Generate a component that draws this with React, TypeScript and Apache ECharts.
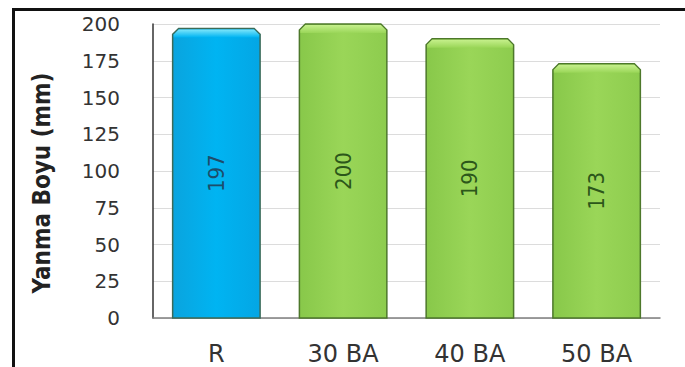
import React, { useEffect, useRef } from "react";
import * as echarts from "echarts";

const categories = ["R", "30 BA", "40 BA", "50 BA"];
const values = [197, 200, 190, 173];
const yTicks = [0, 25, 50, 75, 100, 125, 150, 175, 200];
const yTitle = "Yanma Boyu (mm)";

const palette = [
  { body: ["#0aa4de", "#00b4f2", "#04a6e4"], bevel: "#7fe6fa", edge: "#3b6b58", text: "#1d4d6b" },
  { body: ["#88c84a", "#9ad658", "#8dcc4e"], bevel: "#c6f08c", edge: "#4d782b", text: "#2c571a" },
];

export default function App() {
  const ref = useRef<HTMLDivElement>(null);
  useEffect(() => {
    if (!ref.current) return;
    const chart = echarts.init(ref.current, null, { renderer: "svg" });
    const condensed = "DejaVu Sans Condensed, Liberation Sans Narrow, sans-serif";
    chart.setOption({
      animation: false,
      backgroundColor: "#ffffff",
      grid: { left: 153, right: 25, top: 24, bottom: 49 },
      graphic: [
        { type: "line", shape: { x1: 12, y1: 9.5, x2: 685, y2: 9.5 }, style: { stroke: "#111", lineWidth: 3 } },
        { type: "line", shape: { x1: 13.5, y1: 8, x2: 13.5, y2: 367 }, style: { stroke: "#111", lineWidth: 3 } },
        {
          type: "text",
          x: 42,
          y: 183,
          rotation: Math.PI / 2,
          style: {
            text: yTitle,
            fontSize: 24,
            fontWeight: "bold",
            fontFamily: condensed,
            fill: "#222",
            align: "center",
            verticalAlign: "middle",
          },
        },
      ],
      xAxis: {
        type: "category",
        data: categories,
        axisTick: { show: false },
        axisLine: { lineStyle: { color: "#7f7f7f", width: 1.5 } },
        axisLabel: { color: "#333", fontSize: 24, fontFamily: "DejaVu Sans", margin: 24 },
      },
      yAxis: {
        type: "value",
        min: 0,
        max: 200,
        interval: 25,
        axisLine: { show: true, lineStyle: { color: "#333", width: 1.5 } },
        axisTick: { show: false },
        axisLabel: {
          color: "#333",
          fontSize: 20,
          fontFamily: "DejaVu Sans",
          margin: 33,
          formatter: (v: number) => (yTicks.includes(v) ? String(v) : ""),
        },
        splitLine: { lineStyle: { color: "#dcdcdc", width: 1 } },
      },
      series: [
        {
          type: "custom",
          data: values.map((v, i) => [i, v]),
          encode: { x: 0, y: 1 },
          renderItem: (params: any, api: any) => {
            const idx = api.value(0);
            const val = api.value(1);
            const top = api.coord([idx, val]);
            const base = api.coord([idx, 0]);
            const w = api.size([1, 0])[0] * 0.69;
            const x0 = top[0] - w / 2;
            const x1 = top[0] + w / 2;
            const yT = top[1];
            const yB = base[1];
            const b = 6;
            const p = palette[params.dataIndex === 0 ? 0 : 1];
            return {
              type: "group",
              children: [
                {
                  type: "polygon",
                  shape: {
                    points: [
                      [x0, yB],
                      [x0, yT + b],
                      [x0 + b, yT],
                      [x1 - b, yT],
                      [x1, yT + b],
                      [x1, yB],
                    ],
                  },
                  style: {
                    fill: new echarts.graphic.LinearGradient(0, 0, 1, 0, [
                      { offset: 0, color: p.body[0] },
                      { offset: 0.5, color: p.body[1] },
                      { offset: 1, color: p.body[2] },
                    ]),
                    stroke: p.edge,
                    lineWidth: 1.5,
                  },
                },
                {
                  type: "polygon",
                  shape: {
                    points: [
                      [x0 + 1, yT + b + 3],
                      [x0 + 1, yT + b],
                      [x0 + b, yT + 1],
                      [x1 - b, yT + 1],
                      [x1 - 1, yT + b],
                      [x1 - 1, yT + b + 3],
                    ],
                  },
                  style: {
                    fill: new echarts.graphic.LinearGradient(0, 0, 0, 1, [
                      { offset: 0, color: p.bevel },
                      { offset: 1, color: p.body[1] },
                    ]),
                  },
                },
                {
                  type: "text",
                  x: top[0],
                  y: (yT + yB) / 2,
                  rotation: Math.PI / 2,
                  style: {
                    text: String(val),
                    fill: p.text,
                    fontSize: 22,
                    fontFamily: condensed,
                    align: "center",
                    verticalAlign: "middle",
                  },
                },
              ],
            };
          },
        },
      ],
    });
    return () => chart.dispose();
  }, []);
  return (
    <div
      ref={ref}
      style={{ position: "absolute", left: 0, top: 0, width: 685, height: 367 }}
    />
  );
}
